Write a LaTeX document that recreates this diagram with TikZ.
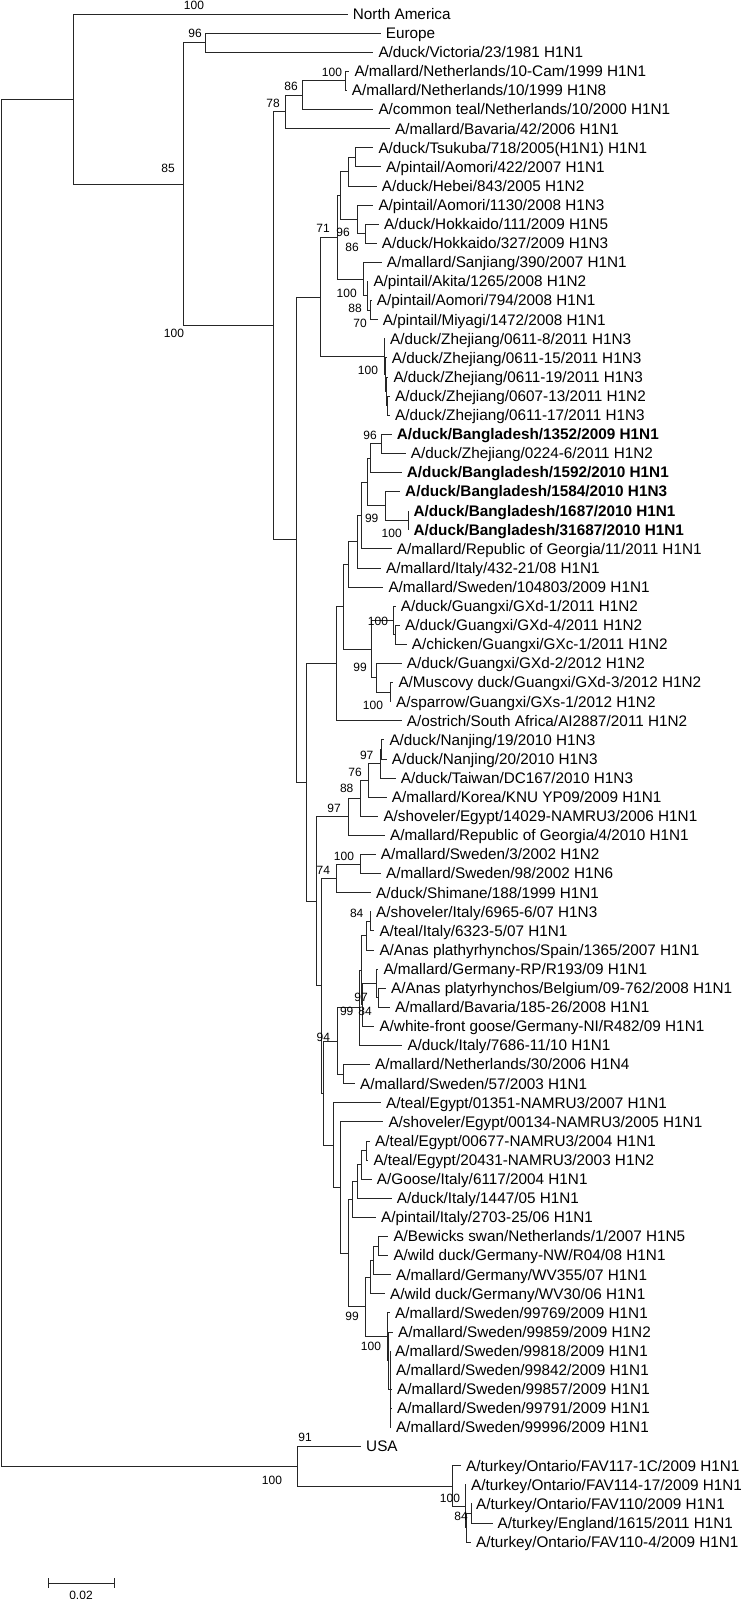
\documentclass[tikz,border=0pt]{standalone}
\usepackage{fontspec}
\setmainfont{Liberation Sans}
\tikzset{
  br/.style={draw=black!85, line width=0.8pt},
  tip/.style={anchor=west, inner sep=0pt, text height=10.95pt, text depth=0pt, font=\fontsize{15.3}{18}\selectfont},
  tipb/.style={tip, font=\fontsize{15.3}{18}\selectfont\bfseries},
  bs/.style={inner sep=0pt, text height=8.6pt, text depth=0pt, font=\fontsize{12}{14}\selectfont},
}
\begin{document}
\begin{tikzpicture}[x=1pt, y=-1pt]
    \useasboundingbox (0,0) rectangle (745,1599);

    % Internal nodes of the tree
    \coordinate (root) at (1.5,782.66);
    \coordinate (nNA) at (73,99.11);
    \coordinate (n85) at (183,184.22);
    \coordinate (n96) at (205.7,42.65);
    \coordinate (nP) at (273.3,325.79);
    \coordinate (n78) at (285,111.89);
    \coordinate (n86) at (302,95.18);
    \coordinate (nNL) at (345.7,80.85);
    \coordinate (nL) at (296.7,539.69);
    \coordinate (nK) at (320,296.92);
    \coordinate (nJ) at (337,237.23);
    \coordinate (nJa) at (340.5,195.45);
    \coordinate (nJb) at (348.3,171.58);
    \coordinate (nJc) at (355,157.25);
    \coordinate (nJd) at (357.3,219.33);
    \coordinate (nJe) at (365,233.65);
    \coordinate (nS) at (363.3,279.01);
    \coordinate (nSa) at (367.3,295.73);
    \coordinate (nSb) at (370,310.05);
    \coordinate (nZ1) at (384,356.61);
    \coordinate (nZ2) at (385,374.51);
    \coordinate (nZ3) at (386,391.23);
    \coordinate (nZ4) at (387,405.55);
    \coordinate (nR) at (306.7,782.46);
    \coordinate (nB8) at (336.7,663.7);
    \coordinate (nB7) at (343.3,606.7);
    \coordinate (nB6) at (348.3,564.32);
    \coordinate (nB5) at (357.3,541.64);
    \coordinate (nB4) at (361.7,515.38);
    \coordinate (nB3) at (367.3,481.95);
    \coordinate (nB2) at (370.7,458.08);
    \coordinate (nB1) at (381.7,443.75);
    \coordinate (nBc) at (385,505.83);
    \coordinate (nBd) at (408.3,520.15);
    \coordinate (nG) at (371.7,649.08);
    \coordinate (nG1) at (393.3,620.43);
    \coordinate (nG1a) at (395,634.75);
    \coordinate (nG2) at (376.7,677.73);
    \coordinate (nG2a) at (390,692.05);
    \coordinate (nQ2) at (316.7,901.22);
    \coordinate (nGe) at (348.3,816.8);
    \coordinate (nEg) at (360,798.3);
    \coordinate (nKo) at (368.3,780.39);
    \coordinate (nTw) at (380,763.68);
    \coordinate (nNj) at (381.7,749.35);
    \coordinate (nQ1) at (321.7,985.64);
    \coordinate (nSh) at (336.7,878.28);
    \coordinate (nSw) at (360,863.95);
    \coordinate (nQ1a) at (323,1093);
    \coordinate (nI8) at (337.3,1040.93);
    \coordinate (nI7) at (359.3,1007.8);
    \coordinate (nI6) at (361.5,970.2);
    \coordinate (nI2) at (366,935.58);
    \coordinate (nI1) at (370,921.25);
    \coordinate (nI5) at (362.7,1004.81);
    \coordinate (nI4) at (376.7,983.33);
    \coordinate (nI3) at (378.3,997.65);
    \coordinate (nNS) at (343.3,1074.05);
    \coordinate (nE1) at (333.3,1145.08);
    \coordinate (nE2) at (340,1187.46);
    \coordinate (nE9) at (348.3,1253.12);
    \coordinate (nE8) at (352.7,1199.4);
    \coordinate (nE7) at (357.3,1181.49);
    \coordinate (nE6) at (361.7,1164.78);
    \coordinate (nE5) at (366,1150.45);
    \coordinate (nW4) at (365,1306.84);
    \coordinate (nW3) at (370.7,1276.99);
    \coordinate (nW2) at (373.3,1260.28);
    \coordinate (nW1) at (378.3,1245.95);
    \coordinate (nS1) at (387,1336.68);
    \coordinate (nS2) at (388.5,1360.55);
    \coordinate (nS3) at (390,1389.2);
    \coordinate (nT) at (297,1466.2);
    \coordinate (nU) at (452.8,1485.9);
    \coordinate (nV) at (465,1506.19);
    \coordinate (nX) at (466.5,1527.68);
    \coordinate (nW) at (470.9,1513.35);

    % Taxa
    \node[tip] (l1) at (352.7,14) {North America};
    \node[tip] (l2) at (385.7,33.1) {Europe};
    \node[tip] (l3) at (378.3,52.2) {A/duck/Victoria/23/1981 H1N1};
    \node[tip] (l4) at (354.3,71.3) {A/mallard/Netherlands/10-Cam/1999 H1N1};
    \node[tip] (l5) at (351.7,90.4) {A/mallard/Netherlands/10/1999 H1N8};
    \node[tip] (l6) at (378.3,109.5) {A/common teal/Netherlands/10/2000 H1N1};
    \node[tip] (l7) at (395,128.6) {A/mallard/Bavaria/42/2006 H1N1};
    \node[tip] (l8) at (378.3,147.7) {A/duck/Tsukuba/718/2005(H1N1) H1N1};
    \node[tip] (l9) at (386,166.8) {A/pintail/Aomori/422/2007 H1N1};
    \node[tip] (l10) at (381.7,185.9) {A/duck/Hebei/843/2005 H1N2};
    \node[tip] (l11) at (378.3,205) {A/pintail/Aomori/1130/2008 H1N3};
    \node[tip] (l12) at (384,224.1) {A/duck/Hokkaido/111/2009 H1N5};
    \node[tip] (l13) at (381.7,243.2) {A/duck/Hokkaido/327/2009 H1N3};
    \node[tip] (l14) at (386.7,262.3) {A/mallard/Sanjiang/390/2007 H1N1};
    \node[tip] (l15) at (373.3,281.4) {A/pintail/Akita/1265/2008 H1N2};
    \node[tip] (l16) at (376.7,300.5) {A/pintail/Aomori/794/2008 H1N1};
    \node[tip] (l17) at (382.7,319.6) {A/pintail/Miyagi/1472/2008 H1N1};
    \node[tip] (l18) at (390,338.7) {A/duck/Zhejiang/0611-8/2011 H1N3};
    \node[tip] (l19) at (391.7,357.8) {A/duck/Zhejiang/0611-15/2011 H1N3};
    \node[tip] (l20) at (393.3,376.9) {A/duck/Zhejiang/0611-19/2011 H1N3};
    \node[tip] (l21) at (395,396) {A/duck/Zhejiang/0607-13/2011 H1N2};
    \node[tip] (l22) at (395,415.1) {A/duck/Zhejiang/0611-17/2011 H1N3};
    \node[tipb] (l23) at (396.7,434.2) {A/duck/Bangladesh/1352/2009 H1N1};
    \node[tip] (l24) at (410.7,453.3) {A/duck/Zhejiang/0224-6/2011 H1N2};
    \node[tipb] (l25) at (406.7,472.4) {A/duck/Bangladesh/1592/2010 H1N1};
    \node[tipb] (l26) at (405,491.5) {A/duck/Bangladesh/1584/2010 H1N3};
    \node[tipb] (l27) at (413.3,510.6) {A/duck/Bangladesh/1687/2010 H1N1};
    \node[tipb] (l28) at (413.3,529.7) {A/duck/Bangladesh/31687/2010 H1N1};
    \node[tip] (l29) at (396.7,548.8) {A/mallard/Republic of Georgia/11/2011 H1N1};
    \node[tip] (l30) at (386,567.9) {A/mallard/Italy/432-21/08 H1N1};
    \node[tip] (l31) at (388.3,587) {A/mallard/Sweden/104803/2009 H1N1};
    \node[tip] (l32) at (400.7,606.1) {A/duck/Guangxi/GXd-1/2011 H1N2};
    \node[tip] (l33) at (405,625.2) {A/duck/Guangxi/GXd-4/2011 H1N2};
    \node[tip] (l34) at (411.7,644.3) {A/chicken/Guangxi/GXc-1/2011 H1N2};
    \node[tip] (l35) at (406.7,663.4) {A/duck/Guangxi/GXd-2/2012 H1N2};
    \node[tip] (l36) at (398.3,682.5) {A/Muscovy duck/Guangxi/GXd-3/2012 H1N2};
    \node[tip] (l37) at (396,701.6) {A/sparrow/Guangxi/GXs-1/2012 H1N2};
    \node[tip] (l38) at (406.7,720.7) {A/ostrich/South Africa/AI2887/2011 H1N2};
    \node[tip] (l39) at (389.3,739.8) {A/duck/Nanjing/19/2010 H1N3};
    \node[tip] (l40) at (391.7,758.9) {A/duck/Nanjing/20/2010 H1N3};
    \node[tip] (l41) at (400.7,778) {A/duck/Taiwan/DC167/2010 H1N3};
    \node[tip] (l42) at (391.7,797.1) {A/mallard/Korea/KNU YP09/2009 H1N1};
    \node[tip] (l43) at (383.3,816.2) {A/shoveler/Egypt/14029-NAMRU3/2006 H1N1};
    \node[tip] (l44) at (390,835.3) {A/mallard/Republic of Georgia/4/2010 H1N1};
    \node[tip] (l45) at (380.7,854.4) {A/mallard/Sweden/3/2002 H1N2};
    \node[tip] (l46) at (386,873.5) {A/mallard/Sweden/98/2002 H1N6};
    \node[tip] (l47) at (376,892.6) {A/duck/Shimane/188/1999 H1N1};
    \node[tip] (l48) at (376,911.7) {A/shoveler/Italy/6965-6/07 H1N3};
    \node[tip] (l49) at (379.3,930.8) {A/teal/Italy/6323-5/07 H1N1};
    \node[tip] (l50) at (379.3,949.9) {A/Anas plathyrhynchos/Spain/1365/2007 H1N1};
    \node[tip] (l51) at (383.3,969) {A/mallard/Germany-RP/R193/09 H1N1};
    \node[tip] (l52) at (391,988.1) {A/Anas platyrhynchos/Belgium/09-762/2008 H1N1};
    \node[tip] (l53) at (395,1007.2) {A/mallard/Bavaria/185-26/2008 H1N1};
    \node[tip] (l54) at (379.3,1026.3) {A/white-front goose/Germany-NI/R482/09 H1N1};
    \node[tip] (l55) at (407.3,1045.4) {A/duck/Italy/7686-11/10 H1N1};
    \node[tip] (l56) at (375,1064.5) {A/mallard/Netherlands/30/2006 H1N4};
    \node[tip] (l57) at (360,1083.6) {A/mallard/Sweden/57/2003 H1N1};
    \node[tip] (l58) at (386,1102.7) {A/teal/Egypt/01351-NAMRU3/2007 H1N1};
    \node[tip] (l59) at (388.3,1121.8) {A/shoveler/Egypt/00134-NAMRU3/2005 H1N1};
    \node[tip] (l60) at (375,1140.9) {A/teal/Egypt/00677-NAMRU3/2004 H1N1};
    \node[tip] (l61) at (373.3,1160) {A/teal/Egypt/20431-NAMRU3/2003 H1N2};
    \node[tip] (l62) at (376.7,1179.1) {A/Goose/Italy/6117/2004 H1N1};
    \node[tip] (l63) at (396.7,1198.2) {A/duck/Italy/1447/05 H1N1};
    \node[tip] (l64) at (381,1217.3) {A/pintail/Italy/2703-25/06 H1N1};
    \node[tip] (l65) at (393.3,1236.4) {A/Bewicks swan/Netherlands/1/2007 H1N5};
    \node[tip] (l66) at (393.3,1255.5) {A/wild duck/Germany-NW/R04/08 H1N1};
    \node[tip] (l67) at (396,1274.6) {A/mallard/Germany/WV355/07 H1N1};
    \node[tip] (l68) at (390,1293.7) {A/wild duck/Germany/WV30/06 H1N1};
    \node[tip] (l69) at (395,1312.8) {A/mallard/Sweden/99769/2009 H1N1};
    \node[tip] (l70) at (398,1331.9) {A/mallard/Sweden/99859/2009 H1N2};
    \node[tip] (l71) at (395,1351) {A/mallard/Sweden/99818/2009 H1N1};
    \node[tip] (l72) at (396,1370.1) {A/mallard/Sweden/99842/2009 H1N1};
    \node[tip] (l73) at (397,1389.2) {A/mallard/Sweden/99857/2009 H1N1};
    \node[tip] (l74) at (397,1408.3) {A/mallard/Sweden/99791/2009 H1N1};
    \node[tip] (l75) at (396,1427.4) {A/mallard/Sweden/99996/2009 H1N1};
    \node[tip] (l76) at (366,1446.5) {USA};
    \node[tip] (l77) at (466,1465.6) {A/turkey/Ontario/FAV117-1C/2009 H1N1};
    \node[tip] (l78) at (471,1484.7) {A/turkey/Ontario/FAV114-17/2009 H1N1};
    \node[tip] (l79) at (476,1503.8) {A/turkey/Ontario/FAV110/2009 H1N1};
    \node[tip] (l80) at (497.5,1522.9) {A/turkey/England/1615/2011 H1N1};
    \node[tip] (l81) at (476,1542) {A/turkey/Ontario/FAV110-4/2009 H1N1};

    % Branches between internal nodes
    \foreach \p/\c in {root/nNA, root/nT, nNA/n85, n85/n96, n85/nP, nP/n78, nP/nL,
        n78/n86, n86/nNL, nL/nK, nL/nR, nK/nJ, nK/nZ1, nJ/nJa, nJ/nS, nJa/nJb,
        nJa/nJd, nJb/nJc, nJd/nJe, nS/nSa, nSa/nSb, nZ1/nZ2, nZ2/nZ3, nZ3/nZ4,
        nR/nB8, nR/nQ2, nB8/nB7, nB7/nB6, nB7/nG, nB6/nB5, nB5/nB4, nB4/nB3,
        nB3/nB2, nB3/nBc, nB2/nB1, nBc/nBd, nG/nG1, nG/nG2, nG1/nG1a, nG2/nG2a,
        nQ2/nGe, nQ2/nQ1, nGe/nEg, nEg/nKo, nKo/nTw, nTw/nNj, nQ1/nSh, nQ1/nQ1a,
        nSh/nSw, nQ1a/nI8, nQ1a/nE1, nI8/nI7, nI8/nNS, nI7/nI6, nI6/nI2, nI6/nI5,
        nI2/nI1, nI5/nI4, nI4/nI3, nE1/nE2, nE2/nE9, nE9/nE8, nE9/nW4, nE8/nE7,
        nE7/nE6, nE6/nE5, nW4/nW3, nW4/nS1, nW3/nW2, nW2/nW1, nS1/nS2, nS2/nS3,
        nT/nU, nU/nV, nV/nX, nX/nW}
        \draw[br] (\p) |- (\c);

    % Terminal branches
    \foreach \p/\c in {nNA/l1, n96/l2, n96/l3, nNL/l4, nNL/l5, n86/l6, n78/l7,
        nJc/l8, nJc/l9, nJb/l10, nJd/l11, nJe/l12, nJe/l13, nS/l14, nSa/l15,
        nSb/l16, nSb/l17, nZ1/l18, nZ2/l19, nZ3/l20, nZ4/l21, nZ4/l22, nB1/l23,
        nB1/l24, nB2/l25, nBc/l26, nBd/l27, nBd/l28, nB4/l29, nB5/l30, nB6/l31,
        nG1/l32, nG1a/l33, nG1a/l34, nG2/l35, nG2a/l36, nG2a/l37, nB8/l38,
        nNj/l39, nNj/l40, nTw/l41, nKo/l42, nEg/l43, nGe/l44, nSw/l45, nSw/l46,
        nSh/l47, nI1/l48, nI1/l49, nI2/l50, nI4/l51, nI3/l52, nI3/l53, nI5/l54,
        nI7/l55, nNS/l56, nNS/l57, nE1/l58, nE2/l59, nE5/l60, nE5/l61, nE6/l62,
        nE7/l63, nE8/l64, nW1/l65, nW1/l66, nW2/l67, nW3/l68, nS1/l69, nS2/l70,
        nS3/l71, nS3/l72, nS3/l73, nS3/l74, nS3/l75, nT/l76, nU/l77, nV/l78,
        nW/l79, nW/l80, nX/l81}
        \draw[br] (\p) |- ([xshift=-5pt]\c.west);

    % Bootstrap values
    \node[bs] (b1) at (194,5) {100};
    \node[bs] (b2) at (195,33) {96};
    \node[bs] (b3) at (332,72) {100};
    \node[bs] (b4) at (291,86) {86};
    \node[bs] (b5) at (273,103) {78};
    \node[bs] (b6) at (168,168) {85};
    \node[bs] (b7) at (323,228) {71};
    \node[bs] (b8) at (343,231.7) {96};
    \node[bs] (b9) at (352,247.3) {86};
    \node[bs] (b10) at (346.7,292.7) {100};
    \node[bs] (b11) at (355,308.3) {88};
    \node[bs] (b12) at (360,323.3) {70};
    \node[bs] (b13) at (174,333) {100};
    \node[bs] (b14) at (368,370) {100};
    \node[bs] (b15) at (370,435) {96};
    \node[bs] (b16) at (371.7,518.3) {99};
    \node[bs] (b17) at (391.7,533.3) {100};
    \node[bs] (b18) at (378,620.7) {100};
    \node[bs] (b19) at (360,666.7) {99};
    \node[bs] (b20) at (373,705) {100};
    \node[bs] (b21) at (366.7,755) {97};
    \node[bs] (b22) at (355,771.7) {76};
    \node[bs] (b23) at (346.7,788.3) {88};
    \node[bs] (b24) at (334,808.3) {97};
    \node[bs] (b25) at (344,855.7) {100};
    \node[bs] (b26) at (323.3,870) {74};
    \node[bs] (b27) at (356.7,913.3) {84};
    \node[bs] (b28) at (361,996.7) {97};
    \node[bs] (b29) at (346.7,1010.7) {99};
    \node[bs] (b30) at (365,1010.7) {84};
    \node[bs] (b31) at (323.3,1036.7) {94};
    \node[bs] (b32) at (352,1316) {99};
    \node[bs] (b33) at (371,1346) {100};
    \node[bs] (b34) at (305,1437) {91};
    \node[bs] (b35) at (272,1480) {100};
    \node[bs] (b36) at (450,1498) {100};
    \node[bs] (b37) at (461,1516) {84};

    % Scale bar
    \coordinate (sb1) at (48,1583);
    \coordinate (sb2) at (114,1583);
    \draw[br] (sb1) -- (sb2);
    \draw[br] ([yshift=5pt]sb1) -- ([yshift=-5pt]sb1);
    \draw[br] ([yshift=5pt]sb2) -- ([yshift=-5pt]sb2);
    \node[bs] (sbl) at (81,1595) {0.02};
\end{tikzpicture}
\end{document}
